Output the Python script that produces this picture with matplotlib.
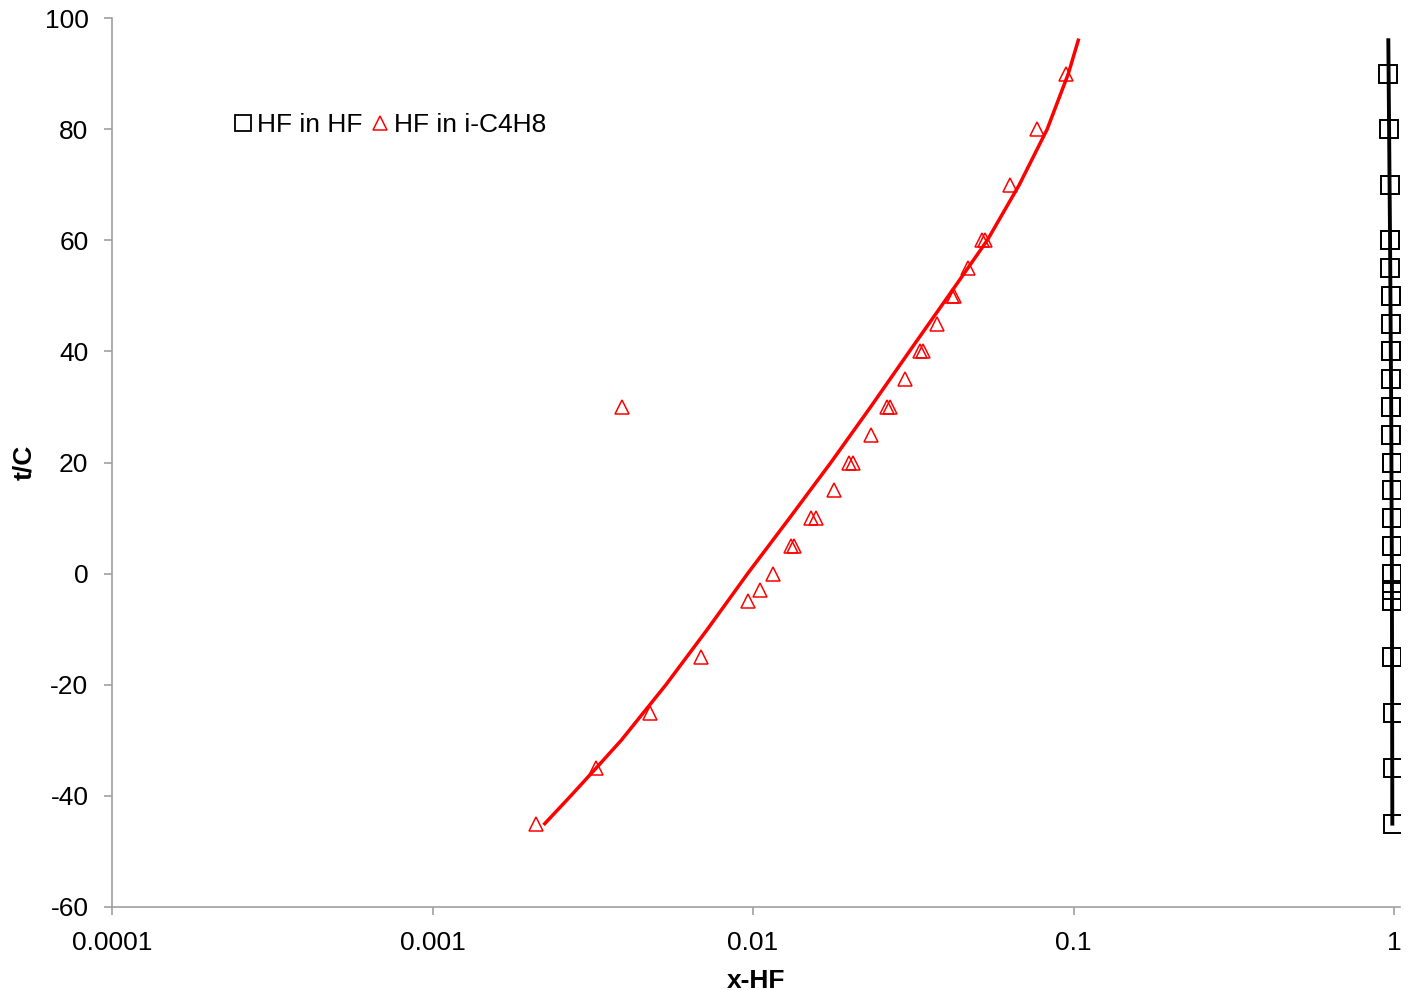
import numpy as np
import matplotlib.pyplot as plt
from matplotlib.lines import Line2D
from matplotlib.ticker import FixedLocator, FixedFormatter, NullLocator

plt.rcParams['font.family'] = ['Liberation Sans', 'DejaVu Sans']
plt.rcParams['axes.unicode_minus'] = False

# HF-rich phase (squares) : t/C and mole fraction HF
t_hf = [90, 80, 70, 60, 60, 55, 50, 50, 45, 40, 40, 35, 30, 30, 25, 20, 20, 15,
        10, 10, 5, 5, 0, -3, -5, -15, -25, -35, -45]
x_hf = [0.961, 0.968, 0.972, 0.970, 0.972, 0.973, 0.976, 0.977, 0.977, 0.978, 0.979,
        0.982, 0.981, 0.982, 0.982, 0.983, 0.984, 0.984, 0.985, 0.986, 0.985, 0.986,
        0.986, 0.989, 0.989, 0.989, 0.990, 0.990, 0.994]

# calculated curve for HF-rich phase
t_hf_line = [-45, 0, 30, 60, 96]
x_hf_line = [0.988, 0.985, 0.980, 0.972, 0.960]

# HF in isobutene phase (triangles)
t_ib = [-45, -35, -25, -15, -5, -3, 0, 5, 5, 10, 10, 15, 20, 20, 25, 30, 30, 35,
        40, 40, 45, 50, 50, 55, 60, 60, 70, 80, 90, 30]
x_ib = [0.0021, 0.00323, 0.00476, 0.00686, 0.00962, 0.01055, 0.01158, 0.0131, 0.01346,
        0.0152, 0.01567, 0.01795, 0.0200, 0.02057, 0.0234, 0.0261, 0.0267, 0.0299,
        0.0333, 0.0340, 0.0376, 0.0419, 0.0425, 0.0470, 0.0520, 0.0531, 0.0635,
        0.0771, 0.0949, 0.00389]

# calculated curve for isobutene phase
t_ib_line = [-45, -40, -35, -30, -20, -10, 0, 10, 20, 30, 40, 50, 60, 70, 80, 90, 96]
x_ib_line = [0.00224, 0.00270, 0.00324, 0.00388, 0.00535, 0.00721, 0.00962, 0.01300,
             0.01750, 0.02328, 0.03076, 0.04074, 0.05383, 0.06776, 0.08279, 0.09638, 0.1035]

xticks = [0.0001, 0.001, 0.01, 0.1, 1]
xticklabels = ['0.0001', '0.001', '0.01', '0.1', '1']
yticks = [-60, -40, -20, 0, 20, 40, 60, 80, 100]

fig = plt.figure(figsize=(14.09, 9.9), dpi=100)
ax = fig.add_axes([112 / 1409, 1 - 907 / 990, (1400 - 112) / 1409, (907 - 18) / 990])

ax.plot(x_hf_line, t_hf_line, color='black', lw=2.8, zorder=2)
ax.plot(x_ib_line, t_ib_line, color='red', lw=2.5, zorder=2)
ax.plot(x_hf, t_hf, ls='none', marker='s', ms=13.5, mfc='none', mec='black',
        mew=1.4, zorder=3)
ax.plot(x_ib, t_ib, ls='none', marker='^', ms=10.5, mfc='none', mec='red',
        mew=1.1, zorder=3)

ax.set_xscale('log')
ax.set_xlim(1e-4, 1.044)
ax.set_ylim(-60, 100)
ax.xaxis.set_major_locator(FixedLocator(xticks))
ax.xaxis.set_major_formatter(FixedFormatter(xticklabels))
ax.xaxis.set_minor_locator(NullLocator())
ax.set_yticks(yticks)

for s in ['top', 'right']:
    ax.spines[s].set_visible(False)
for s in ['left', 'bottom']:
    ax.spines[s].set_color('#a0a0a0')
    ax.spines[s].set_linewidth(1.2)
ax.tick_params(axis='both', direction='out', length=6, width=1.2, color='#a0a0a0',
               labelsize=19, pad=11)

ax.set_xlabel('x-HF', fontsize=19, fontweight='bold', labelpad=10)
ax.set_ylabel('t/C', fontsize=19, fontweight='bold', labelpad=6)

# legend handles with marker sizes as in the reference legend
h_sq = Line2D([], [], ls='none', marker='s', ms=11, mfc='none', mec='black', mew=1.3)
h_tr = Line2D([], [], ls='none', marker='^', ms=10, mfc='none', mec='red', mew=1.1)
fig.legend(handles=[h_sq, h_tr], labels=['HF in HF', 'HF in i-C4H8'], loc='upper left',
           bbox_to_anchor=(236 / 1409, 1 - 113 / 990), ncol=2, frameon=False, fontsize=19,
           handlelength=0.55, handletextpad=0.25, columnspacing=0.4,
           borderaxespad=0, borderpad=0)

fig.savefig('out.png', dpi=100)
